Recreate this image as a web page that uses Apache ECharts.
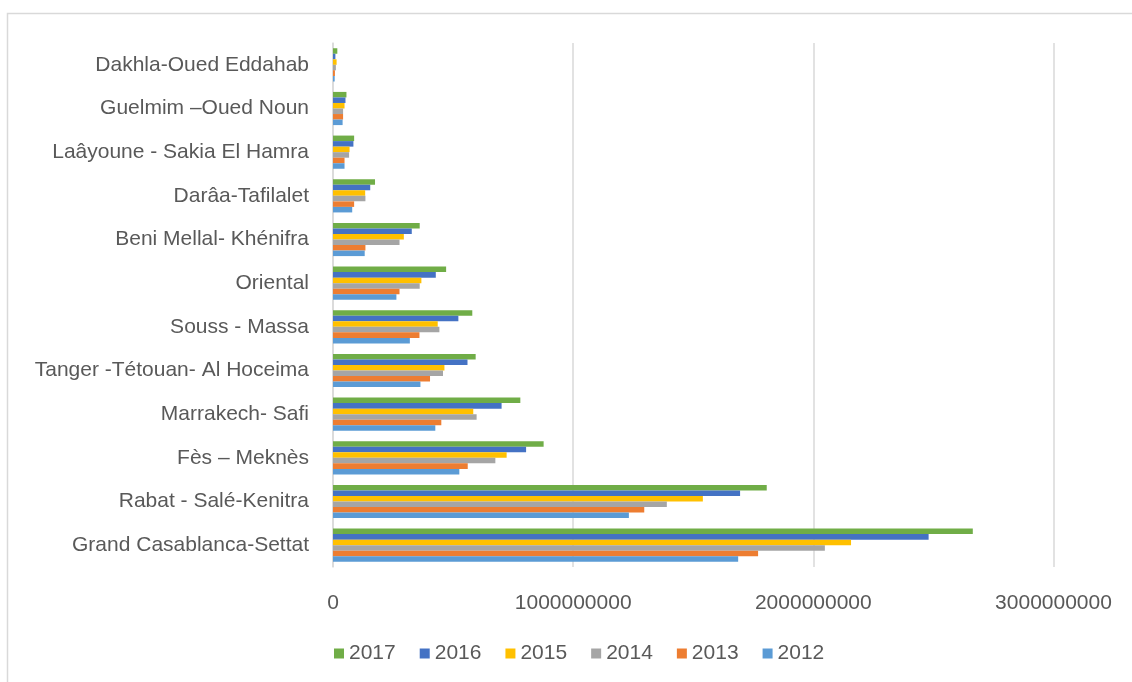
<!DOCTYPE html>
<html>
<head>
<meta charset="utf-8">
<script src="https://cdn.jsdelivr.net/npm/echarts@6/dist/echarts.min.js"></script>
<style>
  html, body { margin: 0; padding: 0; background: #fff; }
  #chart { width: 1132px; height: 682px; }
</style>
</head>
<body>
<div id="chart"></div>
<script>
// regions, bottom to top
const regions = [
  "Grand Casablanca-Settat",
  "Rabat - Salé-Kenitra",
  "Fès – Meknès",
  "Marrakech- Safi",
  "Tanger -Tétouan- Al Hoceima",
  "Souss - Massa",
  "Oriental",
  "Beni Mellal- Khénifra",
  "Darâa-Tafilalet",
  "Laâyoune - Sakia El Hamra",
  "Guelmim –Oued Noun",
  "Dakhla-Oued Eddahab"
]

const years = ["2017", "2016", "2015", "2014", "2013", "2012"]

const v2017 = [2664e6, 1806e6, 877e6, 780e6, 594e6, 580e6, 471e6, 361e6, 175e6, 88e6, 56e6, 18e6]
const v2016 = [2480e6, 1695e6, 804e6, 702e6, 560e6, 522e6, 428e6, 328e6, 155e6, 85e6, 52e6, 10e6]
const v2015 = [2157e6, 1540e6, 723e6, 584e6, 464e6, 436e6, 368e6, 295e6, 134e6, 69e6, 48e6, 15e6]
const v2014 = [2048e6, 1390e6, 676e6, 598e6, 458e6, 443e6, 361e6, 277e6, 135e6, 67e6, 42e6, 12e6]
const v2013 = [1770e6, 1296e6, 561e6, 451e6, 404e6, 360e6, 277e6, 135e6, 88e6, 48e6, 42e6, 8e6]
const v2012 = [1687e6, 1232e6, 526e6, 426e6, 364e6, 320e6, 264e6, 132e6, 80e6, 48e6, 40e6, 7e6]

const values = [v2017, v2016, v2015, v2014, v2013, v2012]
const colors = ["#70AD47", "#4472C4", "#FFC000", "#A5A5A5", "#ED7D31", "#5B9BD5"]

const chart = echarts.init(document.getElementById("chart"))

const option = {
  animation: false,
  textStyle: { fontFamily: "Liberation Sans" },
  graphic: [
    {
      type: "rect",
      shape: { x: 7.5, y: 13.5, width: 1200, height: 700 },
      style: { fill: "none", stroke: "#D9D9D9", lineWidth: 1.5 },
      silent: true,
    },
  ],
  grid: {
    left: 333,
    right: 78.5,
    top: 43,
    bottom: 115,
  },
  legend: {
    data: years,
    top: 638,
    left: 329,
    icon: "rect",
    itemWidth: 10,
    itemHeight: 10,
    itemGap: 24,
    textStyle: { color: "#595959", fontSize: 21 },
  },
  xAxis: {
    type: "value",
    min: 0,
    max: 3000000000,
    interval: 1000000000,
    axisLine: { show: false },
    axisTick: { show: false },
    axisLabel: {
      color: "#595959",
      fontSize: 21,
      margin: 26,
      formatter: (v) => String(v),
    },
    splitLine: { lineStyle: { color: "#D9D9D9", width: 1.5 } },
  },
  yAxis: {
    type: "category",
    data: regions,
    axisLine: { show: true, lineStyle: { color: "#D9D9D9", width: 1.5 } },
    axisTick: { show: false },
    axisLabel: { color: "#595959", fontSize: 21, margin: 24 },
  },
  series: years.map((y, i) => ({
    name: y,
    type: "bar",
    data: values[i],
    barGap: "0%",
    barCategoryGap: "24%",
    itemStyle: { color: colors[i] },
  })),
}

chart.setOption(option)
</script>
</body>
</html>
